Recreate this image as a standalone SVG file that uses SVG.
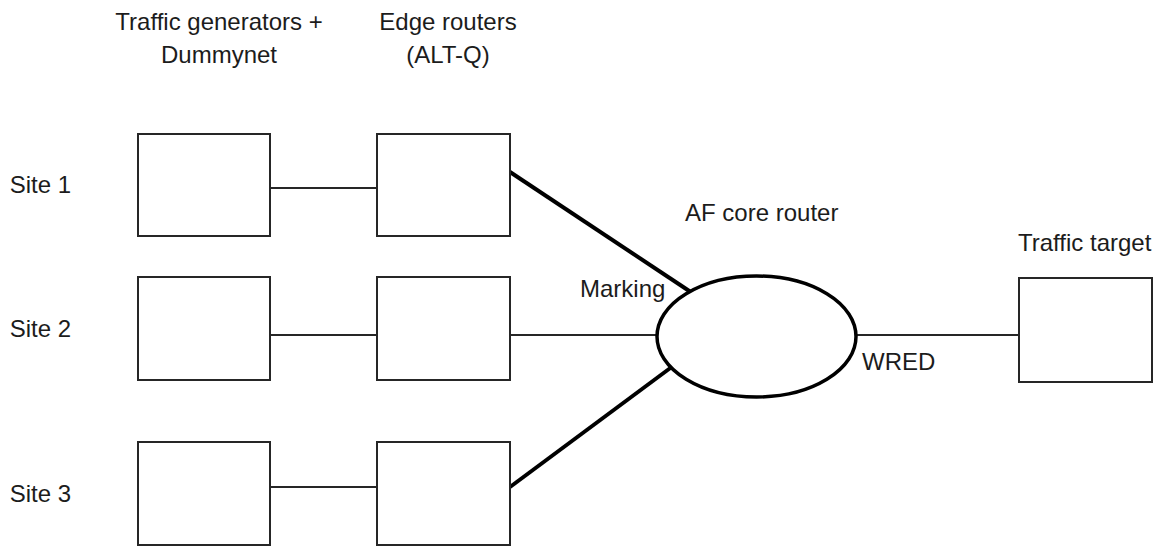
<svg xmlns="http://www.w3.org/2000/svg" width="1161" height="547" viewBox="0 0 1161 547">
  <style>
    text { font-family: "Liberation Sans", Arial, sans-serif; font-size: 24px; fill: #1c1c1c; }
    .box { fill: #ffffff; stroke: #262626; stroke-width: 2; }
    .thin { stroke: #262626; stroke-width: 2; fill: none; }
    .thick { stroke: #000000; stroke-width: 4; fill: none; }
    .core { fill: #ffffff; stroke: #000000; stroke-width: 3.5; }
  </style>
  <rect width="1161" height="547" fill="#ffffff"/>

  <!-- column headings -->
  <g id="headings">
    <text x="219" y="30" text-anchor="middle">Traffic generators +</text>
    <text x="219" y="63" text-anchor="middle">Dummynet</text>
    <text x="448" y="30" text-anchor="middle">Edge routers</text>
    <text x="448" y="63" text-anchor="middle">(ALT-Q)</text>
  </g>

  <!-- site labels -->
  <g id="site-labels">
    <text x="71" y="193" text-anchor="end">Site 1</text>
    <text x="71" y="337" text-anchor="end">Site 2</text>
    <text x="71" y="502" text-anchor="end">Site 3</text>
  </g>

  <!-- links -->
  <g id="connectors">
    <line class="thin" x1="270" y1="188" x2="377" y2="188"/>
    <line class="thin" x1="270" y1="335" x2="377" y2="335"/>
    <line class="thin" x1="270" y1="487" x2="377" y2="487"/>
    <line class="thick" x1="510" y1="172" x2="690" y2="291.5"/>
    <line class="thin" x1="510" y1="335" x2="657" y2="335"/>
    <line class="thick" x1="510" y1="487" x2="671" y2="367.5"/>
    <line class="thin" x1="856" y1="335" x2="1019" y2="335"/>
  </g>

  <g id="gen-1"><rect class="box" x="138" y="134" width="132" height="102"/></g>
  <g id="gen-2"><rect class="box" x="138" y="277" width="132" height="103"/></g>
  <g id="gen-3"><rect class="box" x="138" y="442" width="132" height="103"/></g>

  <g id="edge-1"><rect class="box" x="377" y="134" width="133" height="102"/></g>
  <g id="edge-2"><rect class="box" x="377" y="277" width="133" height="103"/></g>
  <g id="edge-3"><rect class="box" x="377" y="442" width="133" height="103"/></g>

  <g id="core-router">
    <ellipse class="core" cx="756.5" cy="336.5" rx="99.5" ry="60.5"/>
    <text x="685" y="221">AF core router</text>
    <text x="580" y="297">Marking</text>
    <text x="862" y="370">WRED</text>
  </g>

  <g id="traffic-target">
    <rect class="box" x="1019" y="278" width="133" height="104"/>
    <text x="1018" y="251">Traffic target</text>
  </g>
</svg>
